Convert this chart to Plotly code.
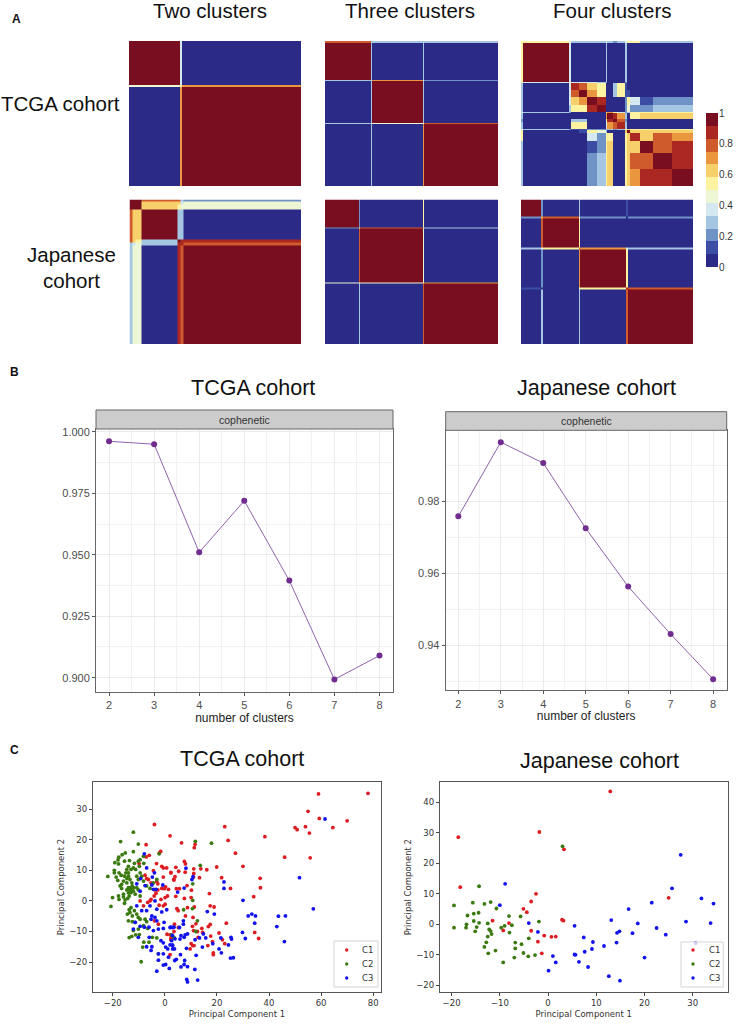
import plotly.graph_objects as go

W, H = 736, 1027
FONT = "Liberation Sans"
MPL = "DejaVu Sans"

# ---------- Panel A: consensus matrices (block edges as fraction of matrix, values 0-1)
colorbar_ticks = [0, 0.2, 0.4, 0.6, 0.8, 1]
band_colors = ['#2b2a86', '#3b4ea3', '#6f93c6', '#a5c6e2', '#d4e9ef', '#eef7d5',
               '#fdf3a0', '#f7cf6b', '#e9963f', '#cf5a2b', '#ab2722', '#7a0e21']

tcga2_x = [0, .296, .31, 1]
tcga2_y = [0, .30, .314, 1]
tcga2_z = [[1, .35, .03],
           [.42, .5, .72],
           [.03, .72, 1]]

tcga3_x = [0, .264, .272, .565, .573, 1]
tcga3_y = [0, .012, .267, .275, .567, .575, 1]
tcga3_z = [[.75, .3, .25, .25, .25],
           [1, .3, .03, .25, .03],
           [.3, .3, .72, .35, .2],
           [.03, .3, 1, .3, .03],
           [.3, .42, .45, .5, .75],
           [.03, .25, .03, .72, 1]]

tcga4_edges = [0, .012, .28, .292, .335, .385, .44, .492, .498, .535, .56, .605, .615, .635, .69, .77, .88, 1]
tcga4_z = [
    [.5, .58, .45, .25, .25, .25, .25, .4, .25, .2, .25, .4, .5, .5, .3, .25, .25],
    [.58, 1, .38, .03, .03, .03, .03, .3, .03, .03, .03, .3, .03, .03, .03, .03, .03],
    [.45, .38, .5, .35, .35, .35, .3, .2, .03, .03, .03, .2, .03, .03, .03, .03, .03],
    [.25, .03, .35, .88, .82, .62, .5, .05, .03, .25, .55, .1, .03, .03, .03, .03, .03],
    [.25, .03, .35, .82, .95, .68, .58, .05, .03, .3, .5, .1, .1, .05, .03, .03, .03],
    [.25, .03, .35, .62, .68, .95, .85, .05, .03, .03, .03, .2, .52, .35, .1, .2, .2],
    [.25, .03, .3, .5, .58, .85, .92, .05, .05, .03, .03, .2, .45, .2, .22, .28, .25],
    [.4, .3, .2, .05, .05, .05, .05, .6, .7, .5, .4, .2, .3, .5, .55, .55, .55],
    [.25, .03, .03, .03, .03, .03, .05, .7, .95, .85, .7, .3, .03, .52, .6, .6, .6],
    [.2, .03, .03, .25, .3, .03, .03, .5, .85, .92, .75, .2, .03, .05, .05, .05, .05],
    [.25, .03, .03, .55, .5, .03, .03, .4, .7, .75, .85, .3, .03, .03, .03, .03, .03],
    [.4, .3, .2, .1, .1, .2, .2, .2, .3, .2, .3, .5, .6, .55, .55, .55, .55],
    [.5, .03, .03, .03, .1, .52, .45, .3, .03, .03, .03, .6, .95, .65, .65, .65, .65],
    [.5, .03, .03, .03, .05, .35, .2, .5, .52, .05, .03, .55, .65, .9, .6, .75, .7],
    [.3, .03, .03, .03, .03, .1, .22, .55, .6, .05, .03, .55, .65, .6, .98, .75, .85],
    [.25, .03, .03, .03, .03, .2, .28, .55, .6, .05, .03, .55, .65, .75, .75, .98, .88],
    [.25, .03, .03, .03, .03, .2, .25, .55, .6, .05, .03, .55, .65, .7, .85, .88, .93],
]

jp2_edges = [0, .015, .035, .07, .28, .30, .315, 1]
jp2_z = [[.95, .95, .92, .8, .75, .25, .2],
         [.95, 1, .95, .62, .6, .4, .45],
         [.92, .95, .95, .62, .55, .45, .42],
         [.8, .62, .62, 1, .3, .25, .03],
         [.75, .6, .55, .3, .95, .9, .85],
         [.25, .4, .45, .25, .9, .9, .8],
         [.25, .42, .42, .03, .85, .8, 1]]

jp3_x = [0, .198, .205, .565, .573, 1]
jp3_y = [0, .195, .203, .575, .583, 1]
jp3_z = [[1, .2, .03, .5, .03],
         [.2, .6, .8, .3, .25],
         [.03, .8, 1, .45, .03],
         [.45, .4, .45, .6, .72],
         [.03, .3, .03, .75, 1]]

jp4_edges = [0, .118, .128, .335, .345, .61, .62, 1]
jp4_z = [[1, .2, .03, .25, .03, .15, .03],
         [.2, .7, .82, .35, .2, .05, .2],
         [.03, .82, 1, .5, .03, .05, .03],
         [.25, .35, .5, .8, .72, .4, .25],
         [.03, .2, .03, .72, 1, .5, .03],
         [.15, .05, .05, .45, .5, .85, .75],
         [.03, .25, .03, .3, .03, .75, 1]]

colorbar_bands = [0, .0833, .1667, .25, .3333, .4167, .5, .5833, .6667, .75, .8333, .9167, 1]
colorbar_values = [.04, .125, .21, .29, .375, .46, .54, .625, .71, .79, .875, .96]

# ---------- Panel B: cophenetic
clusters = [2, 3, 4, 5, 6, 7, 8]
coph_tcga = [0.9962, 0.9950, 0.9510, 0.9720, 0.9395, 0.8993, 0.9090]
coph_jp = [0.9758, 0.9964, 0.9906, 0.9725, 0.9563, 0.9431, 0.9306]

# ---------- Panel C: PCA scores
tcga_c1 = [(59,35),(78,35.2),(55,29.3),(59.3,27),(70,26.2),(50,24),(50.8,23.3),(54,24.3),(55.5,22.2),(64.5,24),
 (38.4,21),(46,14.3),(55.8,14.1),(36.6,7.4),(36.7,4.3),(34.1,1.4),(30,11.3),(27.1,15.6),(24.3,19.8),(23,24.3),
 (34.5,-10.3),(36,-12.3),(25.2,4.1),(21.8,7.6),
 (-4,25),(2,21.3),(-7.2,18.4),(-1.6,16.2),(-2.1,15.7),(-6,14.9),(-7.2,14.4),(-3.2,12.2),(-9.9,12.2),(-1.2,11.3),
 (-.6,10.8),(.7,10.8),(2.3,9.3),(-.6,7.8),(3.5,6.8),(-4.4,9.9),(-7.6,8.4),(-7,7.3),(-6.3,7),(-3.1,6.3),(-2.7,5.6),
 (-5.3,5.9),(.3,4.6),(-1.2,4.1),(1.4,3.8),(-.2,4),(-3.8,3.6),(-2.7,3.6),(-3.4,2.5),(-4.1,1.6),(1,1.6),(-1.5,.5),
 (.1,1.1),(-5.3,.5),(-6.6,-.5),(-9.5,0),(-8.2,-1.6),(-5.7,0),(-2.2,-1.4),(-.6,-1.6),(.1,-1.1),(-4,-6.5),(-2.5,-7.6),
 (2,-11.1),(.85,-10.9),(2.4,-12.2),(2,-17.6),(3.7,-7.6),
 (6.4,19),(11.6,18.5),(11.3,17.4),(7.5,12.9),(7.9,12.1),(4.2,11),(11.1,10.5),(13.8,10.5),(16.1,10.2),(19.9,11.1),
 (5.3,9.7),(7.8,9.4),(11.1,9),(2.3,9.2),(11,7.8),(3.9,7.9),(3.4,7),(13.3,7.6),(8.5,5),(10.2,3.5),(4.4,4),(5.6,4),
 (17.1,2.4),(4.2,1.5),(7.5,.8),(10.1,1.1),(4.6,-2.5),(5.1,-3.2),(8.7,-2.2),(11.3,-2),(7.9,-4.9),(10.8,-5.4),
 (17.4,-1.6),(18.9,-2),(11.9,-7.5),(10.6,-8.3),(14.2,-9),(16.7,-8.4),(17.4,-7.7),(23.6,-7.3),(5.2,-8.7),(3.5,-10),
 (11,-9.7),(12.5,-10),(14.5,-10.3),(20.8,-10.5),(22.1,-12.7),(23,-14),(17.6,-11.5),(12.8,-11.9),(18.3,-13.3),
 (10.1,-14),(10.7,-14.6),(11.2,-14.6),(9.7,-15.7),(16.5,-14.6),(18.6,-17),(18.6,-17.6),(2.6,-11.9),(2.3,-12.7)]
tcga_c2 = [(-12.1,22.5),(-17,19.4),(-10.2,18.6),(-12.1,16.1),(-15.2,15.7),(-16.4,15.1),(-17.7,14.3),(-18,13.4),
 (-19.2,12.5),(-17.8,12.1),(-13.6,13.2),(-15.5,13),(-9.5,13.5),(-10.2,13),(-8.2,14.6),(-2.2,15.4),(-8.1,12.3),
 (-11.7,12.3),(-21.9,8),(-19.4,10),(-19.4,9.2),(-17.6,9.2),(-16.8,8.4),(-18.7,7.8),(-18.1,6.7),(-16.6,5.4),
 (-14,11.3),(-14.6,10.3),(-15,9.2),(-14,9.2),(-13,10.3),(-12.1,10.8),(-11.2,10.3),(-9.8,11.3),(-9.5,9.2),(-8.9,8.1),
 (-14,8.1),(-14.6,7.3),(-13.4,7),(-15.5,8.1),(-12.7,5.9),(-14.6,5.9),(-15.9,6.5),(-10.8,8.1),(-10.2,7),(-8.2,6.5),
 (-4.4,5.9),(-3.1,7),(-13.4,4.3),(-14,3.8),(-12.7,3.8),(-12.5,4.9),(-7,4.9),(-5.7,4.1),(-16.6,4.1),(-17.2,4.9),
 (-20.1,1.1),(-20.7,-1.8),(-17.8,1.6),(-17.6,.5),(-15.9,2.2),(-15.9,1.3),(-14.6,3.6),(-14,4.3),(-13.4,3.8),(-12.1,4.3),
 (-14,2.7),(-13,2.7),(-15.3,.3),(-14.3,.8),(-15.5,-.8),(-13.7,1.6),(-11.4,2.2),(-10.2,3.6),(-9.5,1.6),(-12.1,3.2),
 (-10.8,4.3),(-14.4,-4.3),(-13.4,-3.8),(-12.5,-4.9),(-13.7,-2.9),(-13,-2.2),(-11.7,-3.2),(-10.8,-4.3),(-10.2,-5.4),
 (-14,-6.5),(-12.5,-6.8),(-11.4,-7),(-9.5,-6),(-7.6,-6),(-7,-6.8),(-8.2,-8.1),(-6.6,-9),(-13.7,-12),(-12.7,-11.6),
 (-11.2,-11.1),(-9.8,-11),(-10.2,-9.2),(-12.1,-9.7),(-8.1,-13.5),(-8.5,-15.1),(-6.1,-13.5),(-4.8,-11.9),(-3.1,-12.1),
 (-9.1,-19.9),(-2.5,-17.3),(11.7,19.5),(17.9,18.9),(13.6,11.6),(10.7,5.6),(10.7,.2),(10.6,-2.5),(7.2,-2.9),
 (12.5,-6.5),(11.9,-10),(2.6,-11.1),(3.5,-11.9)]
tcga_c3 = [(61.5,26.8),(51.7,7.6),(57,-2.6),(30,.2),(32,-4.9),(33.4,-4.3),(34.8,-4.9),(34.5,-7.3),(43.6,-5),(46.3,-4.9),
 (43,-8.4),(45.9,-13.3),(29.8,-10.3),(30.9,-12.3),
 (-9.5,3.2),(-10.8,-1.6),(-8.9,-3.2),(-7,-3.2),(-5.7,-1.6),(-3.8,0),(-3.1,-2.7),(-1.2,-3.6),(.7,-2.9),(-5,-4.9),
 (-3.8,-5.4),(-5.3,-6),(-3.1,-6.5),(-.3,-7),(-11.4,-7),(-9.5,-8.3),(-12.1,-9.2),(-7.9,-8.6),(-6.1,-8.6),(-4.4,-9.7),
 (-2.5,-9.2),(-.6,-9),(2.3,-8.6),(3.5,-8.6),(2.9,-11.3),(-10.2,-11.9),(-7,-15),(-5,-15),(-6,-11.9),(-5.3,-16.2),
 (-1.5,-13),(-.6,-13.7),(-2.5,-17.3),(.3,-15.1),(1.1,-15.7),(-.6,-17.3),(1.4,-18.4),(-2.5,-19.4),(.3,-20.8),(-.6,-21),
 (1.7,-22.1),(-3.1,-23),(3,-14.6),(3.7,-15.7),(3.9,-12.4),(2.6,-13),
 (-7.9,15.4),(-7,10.8),(-4,9.2),(-4.8,7.8),(-9.3,7.3),(-10.8,5.6),(-7.6,5),(-5,5.2),(-.8,5.2),(-3.4,3.8),(-4.4,3.8),
 (8.1,10.7),(10.8,7.9),(10.4,7),(22.7,6.2),(22.7,4.1),(7.4,4.2),(4.9,2.9),
 (16.3,-3.5),(19,-4.3),(7.1,-6.5),(7.1,-7.6),(5.6,-8.7),(2,-8.7),(2.9,-8.7),(25.4,-11.9),(25.6,-12.5),(21.5,-12.1),
 (24.4,-14.4),(20.8,-15.7),(21.7,-17),(25.2,-18.7),(26.3,-18.6),(7.8,-11.1),(7.4,-11.9),(6.2,-11.4),(5.8,-12.5),
 (8.7,-10.8),(11.6,-12.7),(13.3,-12.1),(14.8,-10.8),(15.7,-12.1),(18.4,-14),(14.4,-15.1),(8.3,-15.5),(12,-17.8),
 (2.9,-14.4),(2,-14.4),(3,-15.7),(6,-17.6),(4.4,-19.1),(3.8,-19.5),(7.6,-19.5),(6.2,-21.6),(7.4,-20.8),(8.7,-21.5),
 (11.5,-22.4),(8.4,-25.7),(8.7,-26.5),(12.6,-25.9)]

jp_c1 = [(-18.6,28.6),(-18.2,12.2),(-1.8,30.3),(12.9,43.6),(3.3,24.6),(-2.5,10),(-3.5,7.5),(-5.1,5.1),(-4.4,4),(-11.5,1.2),
 (-8.1,.4),(2.9,1.5),(3.2,1.2),(-9.3,-2),(-3.5,-2.1),(-.8,-3.7),(.7,-4.1),(1.6,-4),(-2.1,-5.7),(-1.3,-9.5),(25,8.7)]
jp_c2 = [(3,25.6),(-14.3,12.5),(-19.5,6.2),(-19.5,-1.1),(-15.6,7.1),(-13.2,6.7),(-11.9,7.3),(-10.7,5.2),(-16.7,2.9),
 (-15.4,3.5),(-14.4,3.8),(-15.4,1.1),(-14.3,.5),(-16.9,0),(-17,-1.1),(-14.8,-.9),(-15.1,-2.3),(-12.5,.3),(-12.2,-1.7),
 (-11.9,-2.2),(-11.7,-3.2),(-12.5,-4),(-12.8,-5.9),(-13.2,-7.4),(-12.4,-9.5),(-10.9,-8.6),(-9.7,-1.1),(-9,-.5),(-8.1,2.7),
 (-7.5,-.3),(-8,-2.7),(-5.7,2.6),(-1.9,.9),(-4,-4.6),(-6.8,-6),(-5.5,-6.5),(-6.8,-7.9),(-5.1,-9.4),(-4.1,-10.5),
 (-2.7,-10.1),(-7,-10.9),(-9.3,-12.5)]
jp_c3 = [(-8.9,13.3),(-10,6.3),(-4,.4),(-2.1,-2.5),(5.5,-.5),(13.1,1.4),(16.7,5),(21.5,7.1),(25.7,11.8),(27.5,22.8),
 (31.8,8.5),(34.3,6.8),(28.6,.9),(33.7,.4),(18.6,.3),(14.3,-2.8),(14.8,-2.3),(17.5,-2.9),(22.5,-1.2),(24.4,-3.4),
 (7.4,-4.3),(9.3,-5.8),(14.2,-6),(11.6,-7.1),(9.1,-8.1),(7.6,-9),(5.5,-9.9),(5.7,-10),(1,-10.4),(1.6,-12.5),(6.4,-12.3),
 (8.3,-14),(.1,-15.2),(12.6,-17),(14.9,-18.5),(20,-10.9),(30.6,-6.2)]


def px_dom_x(a, b):
    return [a / W, b / W]


def px_dom_y(top, bottom):
    return [1 - bottom / H, 1 - top / H]


fig = go.Figure()
layout = {}
anns = []
shapes = []


def text(x, y, s, size, color="#111", family=FONT, bold=False, angle=0):
    anns.append(dict(xref="paper", yref="paper", x=x / W, y=1 - y / H, text=f"<b>{s}</b>" if bold else s,
                     showarrow=False, xanchor="center", yanchor="middle", textangle=angle,
                     font=dict(size=size, color=color, family=family)))


# ---- A
heat_panels = [
    (tcga2_x, tcga2_y, tcga2_z, 129, 301, 41, 186),
    (tcga3_x, tcga3_y, tcga3_z, 325, 498, 41, 186),
    (tcga4_edges, tcga4_edges, tcga4_z, 521, 693, 41, 186),
    (jp2_edges, jp2_edges, jp2_z, 129.5, 301, 199.5, 344),
    (jp3_x, jp3_y, jp3_z, 325, 498, 199.5, 344),
    (jp4_edges, jp4_edges, jp4_z, 521, 693, 199.5, 344),
]
n = 1
for ex, ey, z, x0, x1, y0, y1 in heat_panels:
    suffix = "" if n == 1 else str(n)
    fig.add_trace(go.Heatmap(x=ex, y=ey, z=z, coloraxis="coloraxis", xaxis=f"x{suffix}", yaxis=f"y{suffix}",
                             hoverinfo="skip"))
    layout[f"xaxis{suffix}"] = dict(domain=px_dom_x(x0, x1), range=[0, 1], visible=False, anchor=f"y{suffix}",
                                    automargin=False)
    layout[f"yaxis{suffix}"] = dict(domain=px_dom_y(y0, y1), range=[1, 0], visible=False, anchor=f"x{suffix}",
                                    automargin=False)
    n += 1

nb = len(band_colors)
scale = []
for i, c in enumerate(band_colors):
    scale += [[i / nb, c], [(i + 1) / nb, c]]
layout["coloraxis"] = dict(cmin=0, cmax=1, colorscale=scale, showscale=False)

# colour key as its own small heatmap
suffix = str(n)
fig.add_trace(go.Heatmap(x=[0, 1], y=colorbar_bands, z=[[v] for v in colorbar_values], coloraxis="coloraxis",
                         xaxis=f"x{suffix}", yaxis=f"y{suffix}", hoverinfo="skip"))
layout[f"xaxis{suffix}"] = dict(domain=px_dom_x(706, 718), range=[0, 1], visible=False, anchor=f"y{suffix}",
                                automargin=False)
layout[f"yaxis{suffix}"] = dict(domain=px_dom_y(113, 267), range=[0, 1], side="right", anchor=f"x{suffix}",
                                tickvals=colorbar_ticks, ticktext=[str(t) for t in colorbar_ticks], ticks="",
                                showgrid=False, zeroline=False, showline=False, automargin=False,
                                tickfont=dict(size=10, color="#333", family=FONT))
n += 1

# ---- B
line_panels = [
    (clusters, coph_tcga, 96, 393, 429, 691.7, [1.71, 8.30], [0.8943, 1.0012], 0.0125,
     [0.900, 0.925, 0.950, 0.975, 1.000], ".3f", 410),
    (clusters, coph_jp, 445.7, 726.7, 430.3, 690.3, [1.703, 8.32], [0.9275, 0.9997], 0.01,
     [0.94, 0.96, 0.98], ".2f", 411.7),
]
for xs, ys, x0, x1, y0, y1, xr, yr, mdy, yt, fmt, strip_top in line_panels:
    suffix = str(n)
    fig.add_trace(go.Scatter(x=xs, y=ys, mode="lines+markers", line=dict(color="#8f62ab", width=1),
                             marker=dict(color="#702d8f", size=6), xaxis=f"x{suffix}", yaxis=f"y{suffix}",
                             showlegend=False, hoverinfo="skip"))
    layout[f"xaxis{suffix}"] = dict(domain=px_dom_x(x0, x1), range=xr, anchor=f"y{suffix}", tickvals=xs,
                                    showgrid=True, gridcolor="#ebebeb", gridwidth=1, zeroline=False, automargin=False,
                                    minor=dict(showgrid=True, gridcolor="#f2f2f2", gridwidth=1, dtick=0.5, tick0=2),
                                    showline=True, mirror=True, linecolor="#666", linewidth=1,
                                    ticks="outside", ticklen=3, tickcolor="#555", tickwidth=1,
                                    tickfont=dict(size=11, color="#4d4d4d", family=FONT),
                                    title=dict(text="number of clusters", standoff=2,
                                               font=dict(size=12, color="#222", family=FONT)))
    layout[f"yaxis{suffix}"] = dict(domain=px_dom_y(y0, y1), range=yr, anchor=f"x{suffix}", tickvals=yt,
                                    tickformat=fmt, automargin=False,
                                    showgrid=True, gridcolor="#ebebeb", gridwidth=1, zeroline=False,
                                    minor=dict(showgrid=True, gridcolor="#f2f2f2", gridwidth=1, dtick=mdy,
                                               tick0=yt[0]),
                                    showline=True, mirror=True, linecolor="#666", linewidth=1,
                                    ticks="outside", ticklen=3, tickcolor="#555", tickwidth=1,
                                    tickfont=dict(size=11, color="#4d4d4d", family=FONT))
    shapes.append(dict(type="rect", xref="paper", yref="paper", x0=x0 / W, x1=x1 / W,
                       y0=1 - y0 / H, y1=1 - strip_top / H, fillcolor="#cccccc",
                       line=dict(color="#666", width=1), layer="above"))
    text((x0 + x1) / 2, (y0 + strip_top) / 2, "cophenetic", 10.5, color="#333")
    n += 1

# ---- C
scatter_panels = [
    (tcga_c1, tcga_c2, tcga_c3, 93, 381, 782, 992, [-27.6, 83], [-29.8, 38.9], [-20, 0, 20, 40, 60, 80],
     [-20, -10, 0, 10, 20, 30], (334, 378, 941, 987), 346.7, 367),
    (jp_c1, jp_c2, jp_c3, 440, 727.5, 782.3, 992, [-22.4, 37.2], [-22.2, 46.6], [-20, -10, 0, 10, 20, 30],
     [-20, -10, 0, 10, 20, 30, 40], (681, 723.3, 942, 987), 693, 714),
]
cluster_names = ["C1", "C2", "C3"]
cluster_colors = ["#dd1c22", "#3a7a10", "#1212f0"]
legend_rows = [950, 964, 978]
for c1, c2, c3, x0, x1, y0, y1, xr, yr, xt, yt, box, mx, tx in scatter_panels:
    suffix = str(n)
    for pts, name, col in zip((c1, c2, c3), cluster_names, cluster_colors):
        fig.add_trace(go.Scatter(x=[p[0] for p in pts], y=[p[1] for p in pts], mode="markers", name=name,
                                 marker=dict(color=col, size=3.8), xaxis=f"x{suffix}", yaxis=f"y{suffix}",
                                 showlegend=False, hoverinfo="skip"))
    common = dict(showgrid=False, zeroline=False, showline=True, mirror=True, linecolor="#555", linewidth=1.3,
                  ticks="outside", ticklen=3, tickcolor="#444", tickwidth=1, automargin=False,
                  tickfont=dict(size=8.5, color="#333", family=MPL))
    layout[f"xaxis{suffix}"] = dict(domain=px_dom_x(x0, x1), range=xr, anchor=f"y{suffix}", tickvals=xt, **common,
                                    title=dict(text="Principal Component 1", standoff=3,
                                               font=dict(size=8.5, color="#333", family=MPL)))
    layout[f"yaxis{suffix}"] = dict(domain=px_dom_y(y0, y1), range=yr, anchor=f"x{suffix}", tickvals=yt, **common,
                                    title=dict(text="Principal Component 2", standoff=3,
                                               font=dict(size=8.5, color="#333", family=MPL)))
    shapes.append(dict(type="rect", xref="paper", yref="paper", x0=box[0] / W, x1=box[1] / W,
                       y0=1 - box[3] / H, y1=1 - box[2] / H, fillcolor="rgba(255,255,255,0.8)",
                       line=dict(color="#d5d5d5", width=1), layer="above"))
    for ry, name, col in zip(legend_rows, cluster_names, cluster_colors):
        shapes.append(dict(type="circle", xref="paper", yref="paper", x0=(mx - 1.7) / W, x1=(mx + 1.7) / W,
                           y0=1 - (ry + 1.7) / H, y1=1 - (ry - 1.7) / H, fillcolor=col, line=dict(width=0),
                           layer="above"))
        text(tx, ry, name, 8.5, color="#333", family=MPL)
    n += 1

# ---- Text
text(16, 19, "A", 12, color="#111", bold=True)
text(14, 372, "B", 12, color="#111", bold=True)
text(14, 750, "C", 12, color="#111", bold=True)
for cx, s in ((210, "Two clusters"), (410, "Three clusters"), (612, "Four clusters")):
    text(cx, 11, s, 20.5)
text(60, 103, "TCGA cohort", 20.5)
text(71, 255, "Japanese", 20.5)
text(71, 280, "cohort", 20.5)
text(253, 388, "TCGA cohort", 21.5)
text(596, 388, "Japanese cohort", 21.5)
text(242, 759, "TCGA cohort", 21.5)
text(599, 761, "Japanese cohort", 21.5)

fig.update_layout(width=W, height=H, margin=dict(l=0, r=0, t=0, b=0), autosize=False, showlegend=False,
                  paper_bgcolor="white", plot_bgcolor="white", annotations=anns, shapes=shapes, **layout)
fig.write_html("out.html", config={"displayModeBar": False}, post_script="document.body.style.margin='0';")
